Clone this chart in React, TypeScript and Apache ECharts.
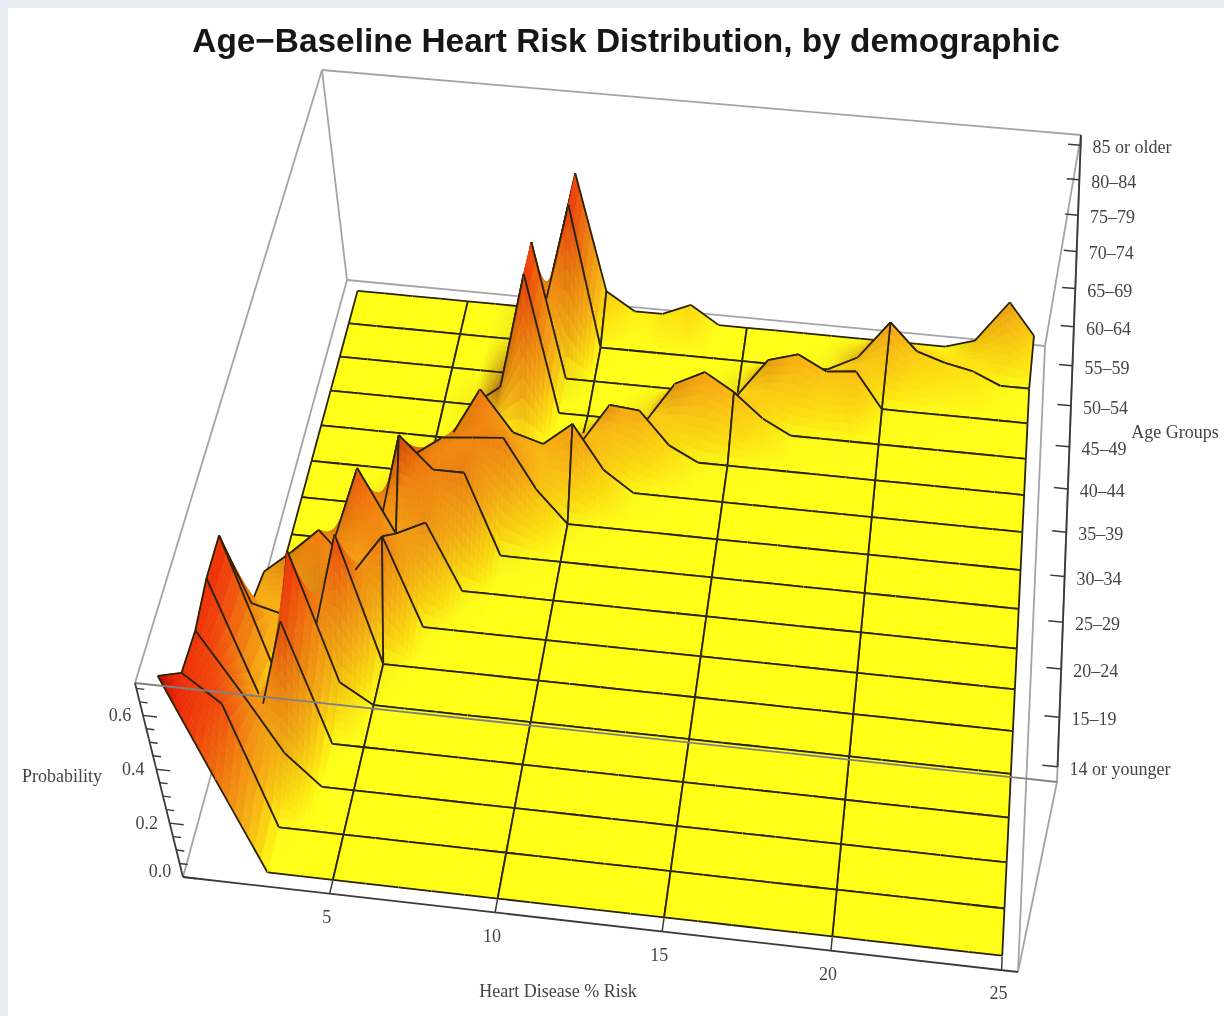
import React, { useEffect, useRef } from "react";
import * as echarts from "echarts";

const riskTicks = [5, 10, 15, 20, 25];
const probMajorTicks = [0, 0.2, 0.4, 0.6];
const probMinorTicks = [0.05, 0.1, 0.15, 0.25, 0.3, 0.35, 0.45, 0.5, 0.55, 0.65, 0.7];
const ageLabels = ["14 or younger", "15\u201319", "20\u201324", "25\u201329", "30\u201334", "35\u201339", "40\u201344", "45\u201349", "50\u201354", "55\u201359", "60\u201364", "65\u201369", "70\u201374", "75\u201379", "80\u201384", "85 or older"];

const age14 = [0.7, 0.33, 0, 0, 0, 0, 0, 0, 0, 0, 0, 0, 0, 0, 0, 0, 0, 0, 0, 0, 0, 0, 0, 0, 0];
const age15 = [0.54, 0.44, 0, 0, 0, 0, 0, 0, 0, 0, 0, 0, 0, 0, 0, 0, 0, 0, 0, 0, 0, 0, 0, 0, 0];
const age20 = [0.53, 0.32, 0.11, 0, 0, 0, 0, 0, 0, 0, 0, 0, 0, 0, 0, 0, 0, 0, 0, 0, 0, 0, 0, 0, 0];
const age25 = [0.56, 0.12, 0.43, 0, 0, 0, 0, 0, 0, 0, 0, 0, 0, 0, 0, 0, 0, 0, 0, 0, 0, 0, 0, 0, 0];
const age30 = [0.56, 0.07, 0.53, 0.07, 0, 0, 0, 0, 0, 0, 0, 0, 0, 0, 0, 0, 0, 0, 0, 0, 0, 0, 0, 0, 0];
const age35 = [0.17, 0.14, 0.12, 0.45, 0, 0, 0, 0, 0, 0, 0, 0, 0, 0, 0, 0, 0, 0, 0, 0, 0, 0, 0, 0, 0];
const age40 = [0.14, 0.22, 0.31, 0.18, 0.31, 0, 0, 0, 0, 0, 0, 0, 0, 0, 0, 0, 0, 0, 0, 0, 0, 0, 0, 0, 0];
const age45 = [0, 0, 0.15, 0.4, 0.18, 0.23, 0, 0, 0, 0, 0, 0, 0, 0, 0, 0, 0, 0, 0, 0, 0, 0, 0, 0, 0];
const age50 = [0, 0, 0, 0.05, 0.39, 0.28, 0.28, 0, 0, 0, 0, 0, 0, 0, 0, 0, 0, 0, 0, 0, 0, 0, 0, 0, 0];
const age55 = [0, 0, 0, 0, 0.19, 0.26, 0.27, 0.28, 0.11, 0, 0, 0, 0, 0, 0, 0, 0, 0, 0, 0, 0, 0, 0, 0, 0];
const age60 = [0, 0, 0, 0, 0, 0.15, 0.31, 0.17, 0.14, 0.22, 0.07, 0, 0, 0, 0, 0, 0, 0, 0, 0, 0, 0, 0, 0, 0];
const age65 = [0, 0, 0, 0, 0, 0, 0.05, 0.02, 0, 0.03, 0.17, 0.16, 0.05, 0, 0, 0, 0, 0, 0, 0, 0, 0, 0, 0, 0];
const age70 = [0, 0, 0, 0, 0, 0, 0.07, 0.47, 0, 0, 0, 0, 0.14, 0.19, 0.13, 0.05, 0, 0, 0, 0, 0, 0, 0, 0, 0];
const age75 = [0, 0, 0, 0, 0, 0, 0, 0.46, 0, 0, 0, 0, 0, 0, 0, 0.13, 0.16, 0.11, 0.12, 0, 0, 0, 0, 0, 0];
const age80 = [0, 0, 0, 0, 0, 0, 0, 0.1, 0.48, 0, 0, 0, 0, 0, 0, 0, 0, 0, 0.05, 0.18, 0.09, 0.06, 0.04, 0, 0];
const age85 = [0, 0, 0, 0, 0, 0, 0, 0.08, 0.475, 0.08, 0.02, 0.02, 0.06, 0, 0, 0, 0, 0, 0, 0, 0, 0, 0.03, 0.17, 0.065];

const surface = [age14, age15, age20, age25, age30, age35, age40, age45, age50, age55, age60, age65, age70, age75, age80, age85];

type Pt = [number, number];

const X0 = 0.52, X1 = 25.48, Y0 = 0.7, Y1 = 16.3, Z_MAX = 0.72;

function quadMap(p0: Pt, p1: Pt, p2: Pt, p3: Pt) {
  const dx1 = p1[0] - p2[0], dx2 = p3[0] - p2[0], sx = p0[0] - p1[0] + p2[0] - p3[0];
  const dy1 = p1[1] - p2[1], dy2 = p3[1] - p2[1], sy = p0[1] - p1[1] + p2[1] - p3[1];
  const den = dx1 * dy2 - dx2 * dy1;
  const g = (sx * dy2 - dx2 * sy) / den, h = (dx1 * sy - sx * dy1) / den;
  const a = p1[0] - p0[0] + g * p1[0], b = p3[0] - p0[0] + h * p3[0], c = p0[0];
  const d = p1[1] - p0[1] + g * p1[1], e = p3[1] - p0[1] + h * p3[1], f = p0[1];
  return (u: number, v: number): Pt => {
    const w = g * u + h * v + 1;
    return [(a * u + b * v + c) / w, (d * u + e * v + f) / w];
  };
}

const floorMap = quadMap([183, 877], [1018, 972], [1045, 346], [347, 280]);
const topMap = quadMap([135, 683], [1057, 782], [1081, 135], [322, 70]);

function project(x: number, y: number, z: number): Pt {
  const u = (x - X0) / (X1 - X0), v = (y - Y0) / (Y1 - Y0);
  const F = floorMap(u, v), T = topMap(u, v);
  const t = z / Z_MAX;
  return [F[0] + (T[0] - F[0]) * t, F[1] + (T[1] - F[1]) * t];
}

const nRows = surface.length, nCols = surface[0].length;
const at = (r: number, c: number) => surface[Math.max(0, Math.min(nRows - 1, r))][Math.max(0, Math.min(nCols - 1, c))];
const slopeX = (r: number, c: number) => (at(r, c + 1) - at(r, c - 1)) / 2;
const slopeY = (r: number, c: number) => (at(r + 1, c) - at(r - 1, c)) / 2;
const bil = (a: number, b: number, c: number, d: number, s: number, t: number) =>
  a * (1 - s) * (1 - t) + b * s * (1 - t) + c * (1 - s) * t + d * s * t;
const cellVal = (fn: (r: number, c: number) => number, r: number, c: number, s: number, t: number) =>
  bil(fn(r, c), fn(r, c + 1), fn(r + 1, c), fn(r + 1, c + 1), s, t);

const colorStops: [number, number[]][] = [
  [0, [255, 255, 24]],
  [0.06, [255, 226, 16]],
  [0.2, [248, 180, 20]],
  [0.42, [240, 128, 16]],
  [0.65, [240, 70, 12]],
  [0.85, [236, 36, 6]],
  [1, [170, 14, 0]],
];

function shadeColor(z: number, sx: number, sy: number) {
  const h = Math.min(1, Math.max(0, z / 0.7));
  let rgb = colorStops[colorStops.length - 1][1];
  for (let i = 1; i < colorStops.length; i++) {
    if (h <= colorStops[i][0]) {
      const [a, ca] = colorStops[i - 1];
      const [b, cb] = colorStops[i];
      const k = (h - a) / (b - a);
      rgb = ca.map((v, idx) => v + (cb[idx] - v) * k);
      break;
    }
  }
  const dark = Math.max(0, sx) * 1.7 + Math.max(0, sy) * 0.3;
  const m = Math.max(0.45, 1 - dark);
  const r = rgb[0] * Math.pow(m, 0.7), g = rgb[1] * Math.pow(m, 1.3), b = rgb[2] * m;
  return `rgb(${Math.round(r)},${Math.round(g)},${Math.round(b)})`;
}

type Shape =
  | { kind: "poly"; pts: Pt[]; fill: string }
  | { kind: "line"; pts: Pt[]; stroke: string; width: number };

const MESH_COLS = new Set(riskTicks.concat([1]));
const SUB = 8;
const MESH = "#2a2200";

function buildSurface(): Shape[] {
  const out: Shape[] = [];
  const colOrder: number[] = [];
  for (let c = 0; c < 14; c++) colOrder.push(c);
  for (let c = nCols - 2; c >= 14; c--) colOrder.push(c);
  for (let r = nRows - 2; r >= 0; r--) {
    for (const c of colOrder) {
      const flat =
        [[r, c], [r, c + 1], [r + 1, c], [r + 1, c + 1]].every(([a, b]) => at(a, b) === 0 && slopeX(a, b) === 0 && slopeY(a, b) === 0);
      const n = flat ? 1 : SUB;
      const asc = c < 14;
      for (let tI = n - 1; tI >= 0; tI--) {
        for (let sIdx = 0; sIdx < n; sIdx++) {
          const sI = asc ? sIdx : n - 1 - sIdx;
          const s0 = sI / n, s1 = (sI + 1) / n, t0 = tI / n, t1 = (tI + 1) / n;
          const P = (s: number, t: number) => project(c + 1 + s, r + 1 + t, cellVal(at, r, c, s, t));
          const sm = (s0 + s1) / 2, tm = (t0 + t1) / 2;
          out.push({
            kind: "poly",
            pts: [P(s0, t0), P(s1, t0), P(s1, t1), P(s0, t1)],
            fill: shadeColor(cellVal(at, r, c, sm, tm), cellVal(slopeX, r, c, sm, tm), cellVal(slopeY, r, c, sm, tm)),
          });
        }
      }
      const lineOf = (a: number[], b: number[]): Shape => ({
        kind: "line",
        pts: [project(a[1] + 1, a[0] + 1, at(a[0], a[1])), project(b[1] + 1, b[0] + 1, at(b[0], b[1]))],
        stroke: MESH,
        width: 1.8,
      });
      out.push(lineOf([r + 1, c], [r + 1, c + 1]));
      out.push(lineOf([r, c], [r, c + 1]));
      if (MESH_COLS.has(c + 1)) out.push(lineOf([r, c], [r + 1, c]));
      if (MESH_COLS.has(c + 2)) out.push(lineOf([r, c + 1], [r + 1, c + 1]));
    }
  }
  return out;
}

const GREY = "#a4a4a8";
const AXIS = "#3a3a3a";
const boxLine = (a: number[], b: number[], stroke = GREY, width = 1.8): Shape => ({
  kind: "line",
  pts: [project(a[0], a[1], a[2]), project(b[0], b[1], b[2])],
  stroke,
  width,
});

const backShapes: Shape[] = [
  boxLine([X0, Y1, 0], [X1, Y1, 0]),
  boxLine([X0, Y0, 0], [X0, Y1, 0]),
  boxLine([X1, Y0, 0], [X1, Y1, 0]),
  boxLine([X0, Y1, 0], [X0, Y1, Z_MAX]),
  boxLine([X1, Y1, 0], [X1, Y1, Z_MAX]),
  boxLine([X0, Y1, Z_MAX], [X1, Y1, Z_MAX]),
  boxLine([X0, Y0, Z_MAX], [X0, Y1, Z_MAX]),
  boxLine([X1, Y0, Z_MAX], [X1, Y1, Z_MAX]),
];

function tickShapes(): Shape[] {
  const out: Shape[] = [
    boxLine([X1, Y0, 0], [X1, Y0, Z_MAX]),
    boxLine([X0, Y0, Z_MAX], [X1, Y0, Z_MAX], "#808080", 1.8),
    boxLine([X0, Y0, 0], [X1, Y0, 0], AXIS, 1.8),
    boxLine([X0, Y0, 0], [X0, Y0, Z_MAX], AXIS, 1.8),
    boxLine([X1, 1, Z_MAX], [X1, Y1, Z_MAX], AXIS, 1.8),
  ];
  riskTicks.forEach((t) => out.push(boxLine([t, Y0, 0], [t, Y0 + 0.28, 0], AXIS, 1.5)));
  ageLabels.forEach((_, i) => out.push(boxLine([X1, i + 1, Z_MAX], [X1 - 0.4, i + 1, Z_MAX], AXIS, 1.5)));
  const zTick = (z: number, len: number): Shape => {
    const p = project(X0, Y0, z);
    return { kind: "line", pts: [p, [p[0] + len, p[1] + len * 0.12]], stroke: AXIS, width: 1.4 };
  };
  probMajorTicks.forEach((z) => out.push(zTick(z, 14)));
  probMinorTicks.forEach((z) => out.push(zTick(z, 8)));
  return out;
}

const allShapes: Shape[] = [...backShapes, ...buildSurface(), ...tickShapes()];

type Label = { text: string; pos: Pt; align: string };
const labels: Label[] = [
  ...riskTicks.map((t) => {
    const p = project(t, Y0, 0);
    return { text: String(t), pos: [p[0] - 3, p[1] + 23] as Pt, align: "center" };
  }),
  ...probMajorTicks.map((z) => {
    const p = project(X0, Y0, z);
    return { text: z.toFixed(1), pos: [p[0] - 23, p[1] - (z === 0 ? 6 : 0)] as Pt, align: "center" };
  }),
  ...ageLabels.map((a, i) => {
    const p = project(X1, i + 1, Z_MAX);
    return { text: a, pos: [p[0] + 12, p[1] + 2] as Pt, align: "left" };
  }),
  { text: "Heart Disease % Risk", pos: [558, 991], align: "center" },
  { text: "Probability", pos: [62, 776], align: "center" },
  { text: "Age Groups", pos: [1175, 432], align: "center" },
];

export default function App() {
  const ref = useRef<HTMLDivElement>(null);
  useEffect(() => {
    const chart = echarts.init(ref.current!, null, { renderer: "svg" });
    chart.setOption({
      animation: false,
      backgroundColor: "#ffffff",
      title: {
        text: "Age\u2212Baseline Heart Risk Distribution, by demographic",
        left: 621,
        top: 19,
        textAlign: "center",
        textStyle: { fontFamily: "Liberation Sans", fontWeight: "bold", fontSize: 33.4, color: "#161616" },
      },
      grid: { left: 0, right: 0, top: 0, bottom: 0 },
      xAxis: { type: "value", min: 0, max: 1224, show: false },
      yAxis: { type: "value", min: 0, max: 1016, inverse: true, show: false },
      graphic: [
        { type: "rect", shape: { x: 0, y: 0, width: 1224, height: 8 }, style: { fill: "#e9edf3" }, silent: true },
        { type: "rect", shape: { x: 0, y: 0, width: 8, height: 1016 }, style: { fill: "#e9edf3" }, silent: true },
      ],
      series: [
        {
          type: "custom",
          coordinateSystem: "cartesian2d",
          clip: false,
          silent: true,
          progressive: 0,
          data: allShapes.map((_, i) => [i, 0]),
          renderItem: (params: any, api: any) => {
            const sh = allShapes[params.dataIndex];
            const points = sh.pts.map((p) => api.coord(p));
            if (sh.kind === "poly") {
              return { type: "polygon", shape: { points }, style: { fill: sh.fill, stroke: sh.fill, lineWidth: 0.7 } };
            }
            return { type: "polyline", shape: { points }, style: { stroke: sh.stroke, lineWidth: sh.width, fill: "none" } };
          },
        },
        {
          type: "custom",
          coordinateSystem: "cartesian2d",
          clip: false,
          silent: true,
          data: labels.map((_, i) => [i, 0]),
          renderItem: (params: any, api: any) => {
            const l = labels[params.dataIndex];
            const [x, y] = api.coord(l.pos);
            return {
              type: "text",
              x,
              y,
              style: { text: l.text, fill: "#444444", font: "18px 'Liberation Serif'", align: l.align, verticalAlign: "middle" },
            };
          },
        },
      ],
    });
    return () => chart.dispose();
  }, []);
  return <div ref={ref} style={{ position: "fixed", left: 0, top: 0, width: 1224, height: 1016, filter: "blur(0.6px)" }} />;
}
